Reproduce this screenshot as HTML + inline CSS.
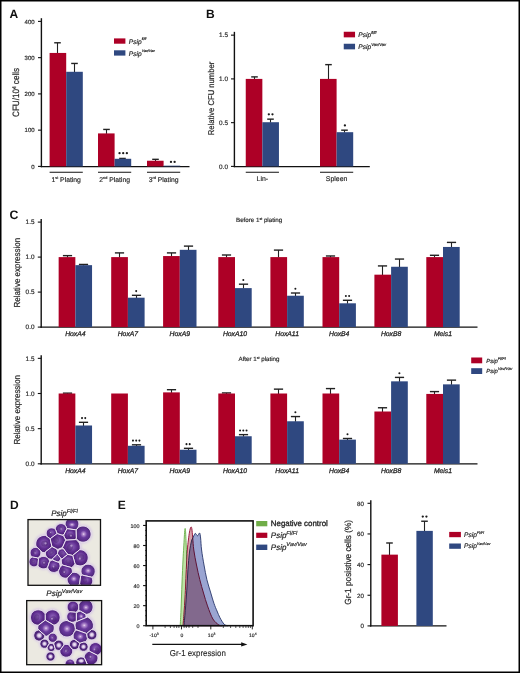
<!DOCTYPE html>
<html><head><meta charset="utf-8"><style>
html,body{margin:0;padding:0;background:#fff;}
#fig{position:relative;width:520px;height:673px;overflow:hidden;background:#fff;}
svg{position:absolute;left:0;top:0;filter:blur(0.3px);}
text{font-family:"Liberation Sans", sans-serif;text-rendering:geometricPrecision;}
</style></head><body><div id="fig">
<svg width="520" height="673" viewBox="0 0 520 673" font-family='"Liberation Sans", sans-serif'>
<text x="9.60" y="17.70" font-size="12" text-anchor="start" font-weight="bold" fill="#111" >A</text>
<line x1="41.40" y1="18.20" x2="41.40" y2="167.20" stroke="#111" stroke-width="1.4"/>
<line x1="38.00" y1="166.40" x2="41.40" y2="166.40" stroke="#111" stroke-width="1.1"/>
<text x="34.60" y="168.60" font-size="6.0" text-anchor="end" fill="#2a2a2a" stroke="#2a2a2a" stroke-width="0.18" >0</text>
<line x1="38.00" y1="130.15" x2="41.40" y2="130.15" stroke="#111" stroke-width="1.1"/>
<text x="34.60" y="132.35" font-size="6.0" text-anchor="end" fill="#2a2a2a" stroke="#2a2a2a" stroke-width="0.18" >100</text>
<line x1="38.00" y1="93.90" x2="41.40" y2="93.90" stroke="#111" stroke-width="1.1"/>
<text x="34.60" y="96.10" font-size="6.0" text-anchor="end" fill="#2a2a2a" stroke="#2a2a2a" stroke-width="0.18" >200</text>
<line x1="38.00" y1="57.65" x2="41.40" y2="57.65" stroke="#111" stroke-width="1.1"/>
<text x="34.60" y="59.85" font-size="6.0" text-anchor="end" fill="#2a2a2a" stroke="#2a2a2a" stroke-width="0.18" >300</text>
<line x1="38.00" y1="21.40" x2="41.40" y2="21.40" stroke="#111" stroke-width="1.1"/>
<text x="34.60" y="23.60" font-size="6.0" text-anchor="end" fill="#2a2a2a" stroke="#2a2a2a" stroke-width="0.18" >400</text>
<line x1="40.70" y1="166.55" x2="189.50" y2="166.55" stroke="#111" stroke-width="1.2"/>
<text transform="translate(18.80,92.45) rotate(-90)" x="0" y="0" font-size="9.2" text-anchor="middle" fill="#2a2a2a" stroke="#2a2a2a" stroke-width="0.22" textLength="49.0" lengthAdjust="spacingAndGlyphs">CFU/10<tspan font-size="5.4" dy="-3.3">4</tspan><tspan dy="3.3"> cells</tspan></text>
<line x1="57.50" y1="42.79" x2="57.50" y2="53.44" stroke="#222" stroke-width="1.1"/>
<line x1="54.20" y1="42.79" x2="60.80" y2="42.79" stroke="#222" stroke-width="1.4"/>
<rect x="49.60" y="52.94" width="16.60" height="113.46" fill="#ad0026" />
<line x1="74.50" y1="63.45" x2="74.50" y2="72.29" stroke="#222" stroke-width="1.1"/>
<line x1="71.20" y1="63.45" x2="77.80" y2="63.45" stroke="#222" stroke-width="1.4"/>
<rect x="66.20" y="71.79" width="16.60" height="94.61" fill="#2f4880" />
<line x1="49.60" y1="172.20" x2="82.80" y2="172.20" stroke="#111" stroke-width="1.1"/>
<line x1="106.50" y1="129.43" x2="106.50" y2="133.91" stroke="#222" stroke-width="1.1"/>
<line x1="103.20" y1="129.43" x2="109.80" y2="129.43" stroke="#222" stroke-width="1.4"/>
<rect x="98.00" y="133.41" width="16.60" height="32.99" fill="#ad0026" />
<line x1="122.50" y1="158.43" x2="122.50" y2="159.29" stroke="#222" stroke-width="1.1"/>
<line x1="119.20" y1="158.43" x2="125.80" y2="158.43" stroke="#222" stroke-width="1.4"/>
<rect x="114.60" y="158.79" width="16.60" height="7.61" fill="#2f4880" />
<line x1="98.00" y1="172.20" x2="131.20" y2="172.20" stroke="#111" stroke-width="1.1"/>
<line x1="155.50" y1="159.33" x2="155.50" y2="161.25" stroke="#222" stroke-width="1.1"/>
<line x1="152.20" y1="159.33" x2="158.80" y2="159.33" stroke="#222" stroke-width="1.4"/>
<rect x="147.00" y="160.75" width="16.60" height="5.66" fill="#ad0026" />
<rect x="163.60" y="165.68" width="16.60" height="0.72" fill="#2f4880" />
<line x1="147.00" y1="172.20" x2="180.20" y2="172.20" stroke="#111" stroke-width="1.1"/>
<text x="66.20" y="181.8" font-size="6.8" text-anchor="middle" fill="#2a2a2a" stroke="#2a2a2a" stroke-width="0.18">1<tspan font-size="3.8" dy="-2.6">st</tspan><tspan dy="2.6"> Plating</tspan></text>
<text x="114.60" y="181.8" font-size="6.8" text-anchor="middle" fill="#2a2a2a" stroke="#2a2a2a" stroke-width="0.18">2<tspan font-size="3.8" dy="-2.6">nd</tspan><tspan dy="2.6"> Plating</tspan></text>
<text x="163.60" y="181.8" font-size="6.8" text-anchor="middle" fill="#2a2a2a" stroke="#2a2a2a" stroke-width="0.18">3<tspan font-size="3.8" dy="-2.6">rd</tspan><tspan dy="2.6"> Plating</tspan></text>
<circle cx="119.55" cy="153.20" r="1.15" fill="#1a1a1a"/>
<circle cx="123.20" cy="153.20" r="1.15" fill="#1a1a1a"/>
<circle cx="126.86" cy="153.20" r="1.15" fill="#1a1a1a"/>
<circle cx="170.97" cy="161.90" r="1.15" fill="#1a1a1a"/>
<circle cx="174.63" cy="161.90" r="1.15" fill="#1a1a1a"/>
<rect x="114.00" y="38.40" width="11.40" height="5.30" fill="#ad0026" />
<rect x="114.00" y="50.30" width="11.40" height="5.30" fill="#2f4880" />
<text x="128.80" y="43.60" font-size="6.6" font-style="italic" fill="#2a2a2a" stroke="#2a2a2a" stroke-width="0.2">Psip<tspan font-size="3.6" dy="-3.30">fl/fl</tspan></text>
<text x="128.80" y="55.50" font-size="6.6" font-style="italic" fill="#2a2a2a" stroke="#2a2a2a" stroke-width="0.2">Psip<tspan font-size="3.6" dy="-3.30">Vav/Vav</tspan></text>
<text x="206.00" y="17.70" font-size="12" text-anchor="start" font-weight="bold" fill="#111" >B</text>
<line x1="234.40" y1="31.85" x2="234.40" y2="167.20" stroke="#111" stroke-width="1.4"/>
<line x1="231.00" y1="166.40" x2="234.40" y2="166.40" stroke="#111" stroke-width="1.1"/>
<text x="228.00" y="168.60" font-size="6.4" text-anchor="end" fill="#2a2a2a" stroke="#2a2a2a" stroke-width="0.18" >0.0</text>
<line x1="231.00" y1="122.65" x2="234.40" y2="122.65" stroke="#111" stroke-width="1.1"/>
<text x="228.00" y="124.85" font-size="6.4" text-anchor="end" fill="#2a2a2a" stroke="#2a2a2a" stroke-width="0.18" >0.5</text>
<line x1="231.00" y1="78.90" x2="234.40" y2="78.90" stroke="#111" stroke-width="1.1"/>
<text x="228.00" y="81.10" font-size="6.4" text-anchor="end" fill="#2a2a2a" stroke="#2a2a2a" stroke-width="0.18" >1.0</text>
<line x1="231.00" y1="35.15" x2="234.40" y2="35.15" stroke="#111" stroke-width="1.1"/>
<text x="228.00" y="37.35" font-size="6.4" text-anchor="end" fill="#2a2a2a" stroke="#2a2a2a" stroke-width="0.18" >1.5</text>
<line x1="233.80" y1="166.55" x2="369.80" y2="166.55" stroke="#111" stroke-width="1.2"/>
<text transform="translate(213.60,98.55) rotate(-90)" x="0" y="0" font-size="8.4" text-anchor="middle" fill="#2a2a2a" stroke="#2a2a2a" stroke-width="0.22" textLength="73.5" lengthAdjust="spacingAndGlyphs">Relative CFU number</text>
<line x1="254.50" y1="76.89" x2="254.50" y2="79.40" stroke="#222" stroke-width="1.1"/>
<line x1="251.20" y1="76.89" x2="257.80" y2="76.89" stroke="#222" stroke-width="1.4"/>
<rect x="245.75" y="78.90" width="16.60" height="87.50" fill="#ad0026" />
<line x1="270.50" y1="119.15" x2="270.50" y2="122.71" stroke="#222" stroke-width="1.1"/>
<line x1="267.20" y1="119.15" x2="273.80" y2="119.15" stroke="#222" stroke-width="1.4"/>
<rect x="262.35" y="122.21" width="16.60" height="44.19" fill="#2f4880" />
<line x1="245.75" y1="172.20" x2="278.95" y2="172.20" stroke="#111" stroke-width="1.1"/>
<circle cx="268.82" cy="114.35" r="1.15" fill="#1a1a1a"/>
<circle cx="272.48" cy="114.35" r="1.15" fill="#1a1a1a"/>
<text x="262.35" y="181.00" font-size="6.9" text-anchor="middle" fill="#2a2a2a" stroke="#2a2a2a" stroke-width="0.18" >Lin-</text>
<line x1="328.50" y1="64.64" x2="328.50" y2="79.40" stroke="#222" stroke-width="1.1"/>
<line x1="325.20" y1="64.64" x2="331.80" y2="64.64" stroke="#222" stroke-width="1.4"/>
<rect x="320.00" y="78.90" width="16.60" height="87.50" fill="#ad0026" />
<line x1="344.50" y1="130.18" x2="344.50" y2="132.69" stroke="#222" stroke-width="1.1"/>
<line x1="341.20" y1="130.18" x2="347.80" y2="130.18" stroke="#222" stroke-width="1.4"/>
<rect x="336.60" y="132.19" width="16.60" height="34.21" fill="#2f4880" />
<line x1="320.00" y1="172.20" x2="353.20" y2="172.20" stroke="#111" stroke-width="1.1"/>
<circle cx="344.90" cy="125.38" r="1.15" fill="#1a1a1a"/>
<text x="336.60" y="181.00" font-size="6.9" text-anchor="middle" fill="#2a2a2a" stroke="#2a2a2a" stroke-width="0.18" >Spleen</text>
<rect x="343.75" y="31.75" width="11.30" height="5.60" fill="#ad0026" />
<rect x="343.75" y="43.75" width="11.30" height="5.60" fill="#2f4880" />
<text x="358.30" y="37.30" font-size="6.6" font-style="italic" fill="#2a2a2a" stroke="#2a2a2a" stroke-width="0.2">Psip<tspan font-size="4.1" dy="-3.30">fl/fl</tspan></text>
<text x="358.30" y="49.30" font-size="6.6" font-style="italic" fill="#2a2a2a" stroke="#2a2a2a" stroke-width="0.2">Psip<tspan font-size="4.1" dy="-3.30">Vav/Vav</tspan></text>
<text x="9.40" y="218.50" font-size="12.3" text-anchor="start" font-weight="bold" fill="#111" >C</text>
<line x1="41.20" y1="218.90" x2="41.20" y2="327.80" stroke="#111" stroke-width="1.4"/>
<line x1="37.80" y1="327.10" x2="41.20" y2="327.10" stroke="#111" stroke-width="1.1"/>
<text x="34.50" y="329.30" font-size="6.4" text-anchor="end" fill="#2a2a2a" stroke="#2a2a2a" stroke-width="0.18" >0.0</text>
<line x1="37.80" y1="292.10" x2="41.20" y2="292.10" stroke="#111" stroke-width="1.1"/>
<text x="34.50" y="294.30" font-size="6.4" text-anchor="end" fill="#2a2a2a" stroke="#2a2a2a" stroke-width="0.18" >0.5</text>
<line x1="37.80" y1="257.10" x2="41.20" y2="257.10" stroke="#111" stroke-width="1.1"/>
<text x="34.50" y="259.30" font-size="6.4" text-anchor="end" fill="#2a2a2a" stroke="#2a2a2a" stroke-width="0.18" >1.0</text>
<line x1="37.80" y1="222.10" x2="41.20" y2="222.10" stroke="#111" stroke-width="1.1"/>
<text x="34.50" y="224.30" font-size="6.4" text-anchor="end" fill="#2a2a2a" stroke="#2a2a2a" stroke-width="0.18" >1.5</text>
<line x1="40.50" y1="327.20" x2="477.50" y2="327.20" stroke="#111" stroke-width="1.2"/>
<text transform="translate(19.80,272.70) rotate(-90)" x="0" y="0" font-size="8.7" text-anchor="middle" fill="#2a2a2a" stroke="#2a2a2a" stroke-width="0.22" textLength="69.6" lengthAdjust="spacingAndGlyphs">Relative expression</text>
<line x1="67.50" y1="255.63" x2="67.50" y2="257.60" stroke="#222" stroke-width="1.1"/>
<line x1="62.90" y1="255.63" x2="72.10" y2="255.63" stroke="#222" stroke-width="1.4"/>
<rect x="58.65" y="257.10" width="16.70" height="70.00" fill="#ad0026" />
<line x1="83.50" y1="264.45" x2="83.50" y2="265.65" stroke="#222" stroke-width="1.1"/>
<line x1="78.90" y1="264.45" x2="88.10" y2="264.45" stroke="#222" stroke-width="1.4"/>
<rect x="75.35" y="265.15" width="16.70" height="61.95" fill="#2f4880" />
<text x="75.35" y="335.70" font-size="6.8" text-anchor="middle" fill="#2a2a2a" font-style="italic" stroke="#2a2a2a" stroke-width="0.3">HoxA4</text>
<line x1="119.50" y1="252.90" x2="119.50" y2="257.60" stroke="#222" stroke-width="1.1"/>
<line x1="114.90" y1="252.90" x2="124.10" y2="252.90" stroke="#222" stroke-width="1.4"/>
<rect x="111.20" y="257.10" width="16.70" height="70.00" fill="#ad0026" />
<line x1="136.50" y1="295.32" x2="136.50" y2="298.20" stroke="#222" stroke-width="1.1"/>
<line x1="131.90" y1="295.32" x2="141.10" y2="295.32" stroke="#222" stroke-width="1.4"/>
<rect x="127.90" y="297.70" width="16.70" height="29.40" fill="#2f4880" />
<circle cx="136.20" cy="291.12" r="1.01" fill="#1a1a1a"/>
<text x="127.90" y="335.70" font-size="6.8" text-anchor="middle" fill="#2a2a2a" font-style="italic" stroke="#2a2a2a" stroke-width="0.3">HoxA7</text>
<line x1="171.50" y1="252.90" x2="171.50" y2="256.55" stroke="#222" stroke-width="1.1"/>
<line x1="166.90" y1="252.90" x2="176.10" y2="252.90" stroke="#222" stroke-width="1.4"/>
<rect x="163.10" y="256.05" width="16.70" height="71.05" fill="#ad0026" />
<line x1="188.50" y1="246.11" x2="188.50" y2="250.32" stroke="#222" stroke-width="1.1"/>
<line x1="183.90" y1="246.11" x2="193.10" y2="246.11" stroke="#222" stroke-width="1.4"/>
<rect x="179.80" y="249.82" width="16.70" height="77.28" fill="#2f4880" />
<text x="179.80" y="335.70" font-size="6.8" text-anchor="middle" fill="#2a2a2a" font-style="italic" stroke="#2a2a2a" stroke-width="0.3">HoxA9</text>
<line x1="226.50" y1="255.00" x2="226.50" y2="257.60" stroke="#222" stroke-width="1.1"/>
<line x1="221.90" y1="255.00" x2="231.10" y2="255.00" stroke="#222" stroke-width="1.4"/>
<rect x="218.30" y="257.10" width="16.70" height="70.00" fill="#ad0026" />
<line x1="243.50" y1="284.19" x2="243.50" y2="288.61" stroke="#222" stroke-width="1.1"/>
<line x1="238.90" y1="284.19" x2="248.10" y2="284.19" stroke="#222" stroke-width="1.4"/>
<rect x="235.00" y="288.11" width="16.70" height="38.99" fill="#2f4880" />
<circle cx="243.30" cy="279.99" r="1.01" fill="#1a1a1a"/>
<text x="235.00" y="335.70" font-size="6.8" text-anchor="middle" fill="#2a2a2a" font-style="italic" stroke="#2a2a2a" stroke-width="0.3">HoxA10</text>
<line x1="278.50" y1="250.10" x2="278.50" y2="257.60" stroke="#222" stroke-width="1.1"/>
<line x1="273.90" y1="250.10" x2="283.10" y2="250.10" stroke="#222" stroke-width="1.4"/>
<rect x="270.40" y="257.10" width="16.70" height="70.00" fill="#ad0026" />
<line x1="295.50" y1="293.01" x2="295.50" y2="296.24" stroke="#222" stroke-width="1.1"/>
<line x1="290.90" y1="293.01" x2="300.10" y2="293.01" stroke="#222" stroke-width="1.4"/>
<rect x="287.10" y="295.74" width="16.70" height="31.36" fill="#2f4880" />
<circle cx="295.40" cy="288.81" r="1.01" fill="#1a1a1a"/>
<text x="287.10" y="335.70" font-size="6.8" text-anchor="middle" fill="#2a2a2a" font-style="italic" stroke="#2a2a2a" stroke-width="0.3">HoxA11</text>
<line x1="330.50" y1="255.98" x2="330.50" y2="257.60" stroke="#222" stroke-width="1.1"/>
<line x1="325.90" y1="255.98" x2="335.10" y2="255.98" stroke="#222" stroke-width="1.4"/>
<rect x="322.50" y="257.10" width="16.70" height="70.00" fill="#ad0026" />
<line x1="347.50" y1="300.29" x2="347.50" y2="303.80" stroke="#222" stroke-width="1.1"/>
<line x1="342.90" y1="300.29" x2="352.10" y2="300.29" stroke="#222" stroke-width="1.4"/>
<rect x="339.20" y="303.30" width="16.70" height="23.80" fill="#2f4880" />
<circle cx="345.89" cy="296.09" r="1.01" fill="#1a1a1a"/>
<circle cx="349.11" cy="296.09" r="1.01" fill="#1a1a1a"/>
<text x="339.20" y="335.70" font-size="6.8" text-anchor="middle" fill="#2a2a2a" font-style="italic" stroke="#2a2a2a" stroke-width="0.3">HoxB4</text>
<line x1="382.50" y1="265.92" x2="382.50" y2="275.17" stroke="#222" stroke-width="1.1"/>
<line x1="377.90" y1="265.92" x2="387.10" y2="265.92" stroke="#222" stroke-width="1.4"/>
<rect x="374.40" y="274.67" width="16.70" height="52.43" fill="#ad0026" />
<line x1="399.50" y1="259.06" x2="399.50" y2="267.26" stroke="#222" stroke-width="1.1"/>
<line x1="394.90" y1="259.06" x2="404.10" y2="259.06" stroke="#222" stroke-width="1.4"/>
<rect x="391.10" y="266.76" width="16.70" height="60.34" fill="#2f4880" />
<text x="391.10" y="335.70" font-size="6.8" text-anchor="middle" fill="#2a2a2a" font-style="italic" stroke="#2a2a2a" stroke-width="0.3">HoxB8</text>
<line x1="434.50" y1="255.28" x2="434.50" y2="257.60" stroke="#222" stroke-width="1.1"/>
<line x1="429.90" y1="255.28" x2="439.10" y2="255.28" stroke="#222" stroke-width="1.4"/>
<rect x="426.30" y="257.10" width="16.70" height="70.00" fill="#ad0026" />
<line x1="451.50" y1="242.40" x2="451.50" y2="247.45" stroke="#222" stroke-width="1.1"/>
<line x1="446.90" y1="242.40" x2="456.10" y2="242.40" stroke="#222" stroke-width="1.4"/>
<rect x="443.00" y="246.95" width="16.70" height="80.15" fill="#2f4880" />
<text x="443.00" y="335.70" font-size="6.8" text-anchor="middle" fill="#2a2a2a" font-style="italic" stroke="#2a2a2a" stroke-width="0.3">Meis1</text>
<text x="236.0" y="222.0" font-size="6.2" fill="#2a2a2a" stroke="#2a2a2a" stroke-width="0.18">Before 1<tspan font-size="3.6" dy="-2.3">st</tspan><tspan dy="2.3"> plating</tspan></text>
<line x1="41.20" y1="355.15" x2="41.20" y2="464.50" stroke="#111" stroke-width="1.4"/>
<line x1="37.80" y1="463.80" x2="41.20" y2="463.80" stroke="#111" stroke-width="1.1"/>
<text x="34.50" y="466.00" font-size="6.4" text-anchor="end" fill="#2a2a2a" stroke="#2a2a2a" stroke-width="0.18" >0.0</text>
<line x1="37.80" y1="428.65" x2="41.20" y2="428.65" stroke="#111" stroke-width="1.1"/>
<text x="34.50" y="430.85" font-size="6.4" text-anchor="end" fill="#2a2a2a" stroke="#2a2a2a" stroke-width="0.18" >0.5</text>
<line x1="37.80" y1="393.50" x2="41.20" y2="393.50" stroke="#111" stroke-width="1.1"/>
<text x="34.50" y="395.70" font-size="6.4" text-anchor="end" fill="#2a2a2a" stroke="#2a2a2a" stroke-width="0.18" >1.0</text>
<line x1="37.80" y1="358.35" x2="41.20" y2="358.35" stroke="#111" stroke-width="1.1"/>
<text x="34.50" y="360.55" font-size="6.4" text-anchor="end" fill="#2a2a2a" stroke="#2a2a2a" stroke-width="0.18" >1.5</text>
<line x1="40.50" y1="463.90" x2="477.50" y2="463.90" stroke="#111" stroke-width="1.2"/>
<text transform="translate(19.80,409.80) rotate(-90)" x="0" y="0" font-size="8.7" text-anchor="middle" fill="#2a2a2a" stroke="#2a2a2a" stroke-width="0.22" textLength="69.6" lengthAdjust="spacingAndGlyphs">Relative expression</text>
<line x1="67.50" y1="393.15" x2="67.50" y2="394.00" stroke="#222" stroke-width="1.1"/>
<line x1="62.90" y1="393.15" x2="72.10" y2="393.15" stroke="#222" stroke-width="1.4"/>
<rect x="58.65" y="393.50" width="16.70" height="70.30" fill="#ad0026" />
<line x1="83.50" y1="422.32" x2="83.50" y2="425.99" stroke="#222" stroke-width="1.1"/>
<line x1="78.90" y1="422.32" x2="88.10" y2="422.32" stroke="#222" stroke-width="1.4"/>
<rect x="75.35" y="425.49" width="16.70" height="38.31" fill="#2f4880" />
<circle cx="82.04" cy="418.12" r="1.01" fill="#1a1a1a"/>
<circle cx="85.26" cy="418.12" r="1.01" fill="#1a1a1a"/>
<text x="75.35" y="472.50" font-size="6.8" text-anchor="middle" fill="#2a2a2a" font-style="italic" stroke="#2a2a2a" stroke-width="0.3">HoxA4</text>
<rect x="111.20" y="393.50" width="16.70" height="70.30" fill="#ad0026" />
<line x1="136.50" y1="444.82" x2="136.50" y2="446.30" stroke="#222" stroke-width="1.1"/>
<line x1="131.90" y1="444.82" x2="141.10" y2="444.82" stroke="#222" stroke-width="1.4"/>
<rect x="127.90" y="445.80" width="16.70" height="18.00" fill="#2f4880" />
<circle cx="132.97" cy="440.62" r="1.01" fill="#1a1a1a"/>
<circle cx="136.20" cy="440.62" r="1.01" fill="#1a1a1a"/>
<circle cx="139.42" cy="440.62" r="1.01" fill="#1a1a1a"/>
<text x="127.90" y="472.50" font-size="6.8" text-anchor="middle" fill="#2a2a2a" font-style="italic" stroke="#2a2a2a" stroke-width="0.3">HoxA7</text>
<line x1="171.50" y1="389.70" x2="171.50" y2="392.88" stroke="#222" stroke-width="1.1"/>
<line x1="166.90" y1="389.70" x2="176.10" y2="389.70" stroke="#222" stroke-width="1.4"/>
<rect x="163.10" y="392.38" width="16.70" height="71.42" fill="#ad0026" />
<line x1="188.50" y1="448.33" x2="188.50" y2="450.24" stroke="#222" stroke-width="1.1"/>
<line x1="183.90" y1="448.33" x2="193.10" y2="448.33" stroke="#222" stroke-width="1.4"/>
<rect x="179.80" y="449.74" width="16.70" height="14.06" fill="#2f4880" />
<circle cx="186.49" cy="444.13" r="1.01" fill="#1a1a1a"/>
<circle cx="189.71" cy="444.13" r="1.01" fill="#1a1a1a"/>
<text x="179.80" y="472.50" font-size="6.8" text-anchor="middle" fill="#2a2a2a" font-style="italic" stroke="#2a2a2a" stroke-width="0.3">HoxA9</text>
<line x1="226.50" y1="392.94" x2="226.50" y2="394.00" stroke="#222" stroke-width="1.1"/>
<line x1="221.90" y1="392.94" x2="231.10" y2="392.94" stroke="#222" stroke-width="1.4"/>
<rect x="218.30" y="393.50" width="16.70" height="70.30" fill="#ad0026" />
<line x1="243.50" y1="434.63" x2="243.50" y2="436.74" stroke="#222" stroke-width="1.1"/>
<line x1="238.90" y1="434.63" x2="248.10" y2="434.63" stroke="#222" stroke-width="1.4"/>
<rect x="235.00" y="436.24" width="16.70" height="27.56" fill="#2f4880" />
<circle cx="240.08" cy="430.43" r="1.01" fill="#1a1a1a"/>
<circle cx="243.30" cy="430.43" r="1.01" fill="#1a1a1a"/>
<circle cx="246.53" cy="430.43" r="1.01" fill="#1a1a1a"/>
<text x="235.00" y="472.50" font-size="6.8" text-anchor="middle" fill="#2a2a2a" font-style="italic" stroke="#2a2a2a" stroke-width="0.3">HoxA10</text>
<line x1="278.50" y1="389.14" x2="278.50" y2="394.00" stroke="#222" stroke-width="1.1"/>
<line x1="273.90" y1="389.14" x2="283.10" y2="389.14" stroke="#222" stroke-width="1.4"/>
<rect x="270.40" y="393.50" width="16.70" height="70.30" fill="#ad0026" />
<line x1="295.50" y1="416.56" x2="295.50" y2="421.77" stroke="#222" stroke-width="1.1"/>
<line x1="290.90" y1="416.56" x2="300.10" y2="416.56" stroke="#222" stroke-width="1.4"/>
<rect x="287.10" y="421.27" width="16.70" height="42.53" fill="#2f4880" />
<circle cx="295.40" cy="412.36" r="1.01" fill="#1a1a1a"/>
<text x="287.10" y="472.50" font-size="6.8" text-anchor="middle" fill="#2a2a2a" font-style="italic" stroke="#2a2a2a" stroke-width="0.3">HoxA11</text>
<line x1="330.50" y1="388.58" x2="330.50" y2="394.00" stroke="#222" stroke-width="1.1"/>
<line x1="325.90" y1="388.58" x2="335.10" y2="388.58" stroke="#222" stroke-width="1.4"/>
<rect x="322.50" y="393.50" width="16.70" height="70.30" fill="#ad0026" />
<line x1="347.50" y1="438.49" x2="347.50" y2="440.12" stroke="#222" stroke-width="1.1"/>
<line x1="342.90" y1="438.49" x2="352.10" y2="438.49" stroke="#222" stroke-width="1.4"/>
<rect x="339.20" y="439.62" width="16.70" height="24.18" fill="#2f4880" />
<circle cx="347.50" cy="434.29" r="1.01" fill="#1a1a1a"/>
<text x="339.20" y="472.50" font-size="6.8" text-anchor="middle" fill="#2a2a2a" font-style="italic" stroke="#2a2a2a" stroke-width="0.3">HoxB4</text>
<line x1="382.50" y1="407.77" x2="382.50" y2="412.00" stroke="#222" stroke-width="1.1"/>
<line x1="377.90" y1="407.77" x2="387.10" y2="407.77" stroke="#222" stroke-width="1.4"/>
<rect x="374.40" y="411.50" width="16.70" height="52.30" fill="#ad0026" />
<line x1="399.50" y1="377.40" x2="399.50" y2="381.84" stroke="#222" stroke-width="1.1"/>
<line x1="394.90" y1="377.40" x2="404.10" y2="377.40" stroke="#222" stroke-width="1.4"/>
<rect x="391.10" y="381.34" width="16.70" height="82.46" fill="#2f4880" />
<circle cx="399.40" cy="373.20" r="1.01" fill="#1a1a1a"/>
<text x="391.10" y="472.50" font-size="6.8" text-anchor="middle" fill="#2a2a2a" font-style="italic" stroke="#2a2a2a" stroke-width="0.3">HoxB8</text>
<line x1="434.50" y1="391.60" x2="434.50" y2="394.42" stroke="#222" stroke-width="1.1"/>
<line x1="429.90" y1="391.60" x2="439.10" y2="391.60" stroke="#222" stroke-width="1.4"/>
<rect x="426.30" y="393.92" width="16.70" height="69.88" fill="#ad0026" />
<line x1="451.50" y1="380.14" x2="451.50" y2="384.86" stroke="#222" stroke-width="1.1"/>
<line x1="446.90" y1="380.14" x2="456.10" y2="380.14" stroke="#222" stroke-width="1.4"/>
<rect x="443.00" y="384.36" width="16.70" height="79.44" fill="#2f4880" />
<text x="443.00" y="472.50" font-size="6.8" text-anchor="middle" fill="#2a2a2a" font-style="italic" stroke="#2a2a2a" stroke-width="0.3">Meis1</text>
<text x="238.5" y="361.25" font-size="6.2" fill="#2a2a2a" stroke="#2a2a2a" stroke-width="0.18">After 1<tspan font-size="3.6" dy="-2.3">st</tspan><tspan dy="2.3"> plating</tspan></text>
<rect x="471.20" y="357.50" width="11.00" height="5.80" fill="#ad0026" />
<rect x="471.20" y="368.20" width="11.00" height="5.80" fill="#2f4880" />
<text x="486.30" y="363.00" font-size="5.9" font-style="italic" fill="#2a2a2a" stroke="#2a2a2a" stroke-width="0.2">Psip<tspan font-size="4.0" dy="-2.95">Fl/Fl</tspan></text>
<text x="486.30" y="373.40" font-size="5.9" font-style="italic" fill="#2a2a2a" stroke="#2a2a2a" stroke-width="0.2">Psip<tspan font-size="4.0" dy="-2.95">Vav/Vav</tspan></text>
<text x="10.00" y="508.80" font-size="12" text-anchor="start" font-weight="bold" fill="#111" >D</text>
<text x="117.80" y="509.10" font-size="12" text-anchor="start" font-weight="bold" fill="#111" >E</text>
<text x="51.20" y="516.10" font-size="8" font-style="italic" fill="#2a2a2a" stroke="#2a2a2a" stroke-width="0.2">Psip<tspan font-size="5.6" dy="-3.20">Fl/Fl</tspan></text>
<text x="46.30" y="596.10" font-size="8" font-style="italic" fill="#2a2a2a" stroke="#2a2a2a" stroke-width="0.2">Psip<tspan font-size="5.6" dy="-3.20">Vav/Vav</tspan></text>
<defs><radialGradient id="cg" cx="0.5" cy="0.45" r="0.6">
<stop offset="0" stop-color="#9468c0"/><stop offset="0.55" stop-color="#5e2c8e"/><stop offset="1" stop-color="#421a6a"/></radialGradient>
<radialGradient id="cg3" cx="0.5" cy="0.5" r="0.6">
<stop offset="0" stop-color="#eadcf2"/><stop offset="0.12" stop-color="#b690d0"/><stop offset="0.38" stop-color="#6a3a9e"/><stop offset="1" stop-color="#44206c"/></radialGradient>
<radialGradient id="cg2" cx="0.5" cy="0.5" r="0.6">
<stop offset="0" stop-color="#f6f0f8"/><stop offset="0.25" stop-color="#d6c2e4"/><stop offset="0.5" stop-color="#52287e"/><stop offset="1" stop-color="#401c66"/></radialGradient></defs>
<defs><filter id="haze" x="-10%" y="-10%" width="120%" height="120%"><feGaussianBlur stdDeviation="1.2"/></filter><clipPath id="clip519"><rect x="28.0" y="519.6" width="72.5" height="65.7"/></clipPath><clipPath id="clip600"><rect x="26.7" y="600.6" width="74.9" height="64.1"/></clipPath></defs>
<rect x="28.00" y="519.60" width="72.50" height="65.70" fill="#ebe9e1" />
<g clip-path="url(#clip519)" filter="url(#haze)">
<circle cx="72.0" cy="524.1" r="8.12" fill="#d9cbe4"/>
<circle cx="61.1" cy="529.4" r="6.82" fill="#d9cbe4"/>
<circle cx="51.6" cy="533.3" r="6.38" fill="#d9cbe4"/>
<circle cx="70.6" cy="534.4" r="8.12" fill="#d9cbe4"/>
<circle cx="83.0" cy="534.1" r="9.57" fill="#d9cbe4"/>
<circle cx="44.3" cy="544.0" r="10.15" fill="#d9cbe4"/>
<circle cx="57.4" cy="541.1" r="9.57" fill="#d9cbe4"/>
<circle cx="71.3" cy="547.2" r="10.58" fill="#d9cbe4"/>
<circle cx="35.5" cy="552.8" r="6.38" fill="#d9cbe4"/>
<circle cx="51.6" cy="553.1" r="7.39" fill="#d9cbe4"/>
<circle cx="62.5" cy="553.8" r="5.94" fill="#d9cbe4"/>
<circle cx="80.1" cy="557.8" r="9.57" fill="#d9cbe4"/>
<circle cx="34.0" cy="561.8" r="5.94" fill="#d9cbe4"/>
<circle cx="43.5" cy="562.6" r="7.39" fill="#d9cbe4"/>
<circle cx="56.7" cy="558.2" r="4.64" fill="#d9cbe4"/>
<circle cx="68.4" cy="561.1" r="8.41" fill="#d9cbe4"/>
<circle cx="53.8" cy="566.2" r="7.39" fill="#d9cbe4"/>
<circle cx="65.5" cy="571.3" r="8.12" fill="#d9cbe4"/>
<circle cx="88.1" cy="571.3" r="8.41" fill="#d9cbe4"/>
<circle cx="74.2" cy="579.4" r="8.41" fill="#d9cbe4"/>
<circle cx="85.9" cy="580.8" r="8.12" fill="#d9cbe4"/>
</g>
<path d="M65.7,521.5 L65.4,522.3 L65.2,523.2 L65.1,524.1 L65.2,524.9 L67.0,528.7 L75.7,529.8 L76.2,529.5 L76.8,528.9 L77.4,528.3 L77.9,527.5 L78.3,526.7 L78.6,525.9 L78.8,525.0 L78.9,524.1 L78.8,523.2 L78.6,522.3 L78.3,521.5 L77.9,520.7 L77.4,519.9 L77.2,519.6 L66.8,519.6 L66.6,519.9 L66.1,520.7 L65.7,521.5Z" fill="url(#cg3)" stroke="#efe6f4" stroke-width="1.0" stroke-linejoin="round"/>
<path d="M55.8,527.2 L55.5,527.9 L55.4,528.6 L55.4,529.3 L57.1,533.5 L57.3,533.7 L61.8,535.1 L61.9,535.1 L62.6,535.0 L63.3,534.7 L64.0,534.4 L64.1,534.3 L66.8,529.1 L66.8,528.6 L66.7,527.9 L66.6,527.8 L65.8,526.1 L65.7,525.9 L65.2,525.3 L64.6,524.8 L64.0,524.4 L63.3,524.1 L62.6,523.8 L61.9,523.7 L61.1,523.6 L60.3,523.7 L59.6,523.8 L58.9,524.1 L58.2,524.4 L57.6,524.8 L57.0,525.3 L56.5,525.9 L56.1,526.5 L55.8,527.2Z" fill="url(#cg)" stroke="#efe6f4" stroke-width="1.0" stroke-linejoin="round"/>
<ellipse cx="60.60" cy="528.42" rx="2.35" ry="1.97" fill="#2c0c4c" opacity="0.28" transform="rotate(117 60.60 528.42)"/>
<circle cx="61.18" cy="529.08" r="0.75" fill="#e4d0f0" opacity="0.55"/>
<path d="M46.3,534.0 L46.4,534.7 L46.6,535.4 L46.9,536.0 L47.3,536.6 L47.8,537.1 L49.4,538.2 L49.5,538.3 L50.2,538.5 L50.5,538.6 L57.0,533.8 L57.0,533.3 L57.0,533.3 L55.5,529.6 L55.4,529.5 L54.9,529.0 L54.3,528.6 L53.7,528.3 L53.0,528.1 L52.3,528.0 L51.6,527.9 L50.9,528.0 L50.2,528.1 L49.5,528.3 L48.9,528.6 L48.3,529.0 L47.8,529.5 L47.3,530.0 L46.9,530.6 L46.6,531.2 L46.4,531.9 L46.3,532.6 L46.2,533.3 L46.3,534.0Z" fill="url(#cg)" stroke="#efe6f4" stroke-width="1.0" stroke-linejoin="round"/>
<ellipse cx="50.43" cy="533.32" rx="2.20" ry="1.85" fill="#2c0c4c" opacity="0.28" transform="rotate(7 50.43 533.32)"/>
<circle cx="50.65" cy="532.40" r="0.70" fill="#e4d0f0" opacity="0.55"/>
<path d="M76.0,530.2 L75.7,529.8 L67.0,528.7 L63.8,534.9 L63.8,535.3 L64.0,536.2 L64.3,537.0 L64.7,537.8 L65.2,538.6 L65.8,539.2 L66.4,539.8 L66.9,540.1 L74.9,539.7 L75.4,539.2 L76.0,538.6 L76.4,538.1 L76.2,530.5 L76.0,530.2Z" fill="url(#cg)" stroke="#efe6f4" stroke-width="1.0" stroke-linejoin="round"/>
<ellipse cx="70.35" cy="535.50" rx="2.80" ry="2.35" fill="#2c0c4c" opacity="0.28" transform="rotate(22 70.35 535.50)"/>
<circle cx="70.96" cy="535.65" r="0.90" fill="#e4d0f0" opacity="0.55"/>
<path d="M77.3,539.8 L78.1,540.5 L79.0,541.1 L79.9,541.6 L80.9,541.9 L81.9,542.1 L83.0,542.2 L84.1,542.1 L85.1,541.9 L86.1,541.6 L87.0,541.1 L87.9,540.5 L88.7,539.8 L89.4,539.0 L90.0,538.1 L90.5,537.2 L90.8,536.2 L91.0,535.2 L91.1,534.1 L91.0,533.0 L90.8,532.0 L90.5,531.0 L90.0,530.1 L89.4,529.2 L88.7,528.4 L87.9,527.7 L87.0,527.1 L86.1,526.6 L85.1,526.3 L84.1,526.1 L83.0,526.0 L81.9,526.1 L80.9,526.3 L79.9,526.6 L79.0,527.1 L78.4,527.5 L76.2,529.9 L76.4,538.7 L76.6,539.0 L77.3,539.8Z" fill="url(#cg3)" stroke="#efe6f4" stroke-width="1.0" stroke-linejoin="round"/>
<path d="M36.0,546.2 L36.1,546.3 L42.0,552.2 L42.1,552.3 L43.2,552.5 L44.3,552.6 L44.6,552.5 L52.0,546.6 L50.2,538.8 L45.5,535.5 L45.4,535.5 L44.3,535.4 L43.2,535.5 L42.1,535.7 L41.0,536.1 L40.0,536.6 L39.1,537.2 L38.2,537.9 L37.5,538.8 L36.9,539.7 L36.4,540.7 L36.0,541.8 L35.8,542.9 L35.7,544.0 L35.8,545.1 L36.0,546.2Z" fill="url(#cg)" stroke="#efe6f4" stroke-width="1.0" stroke-linejoin="round"/>
<ellipse cx="44.62" cy="543.57" rx="3.50" ry="2.94" fill="#2c0c4c" opacity="0.28" transform="rotate(176 44.62 543.57)"/>
<circle cx="45.55" cy="543.26" r="1.12" fill="#e4d0f0" opacity="0.55"/>
<path d="M50.2,538.8 L52.0,546.6 L57.2,549.2 L57.4,549.2 L58.5,549.1 L58.6,549.1 L62.0,547.7 L62.3,547.5 L62.6,547.2 L65.5,540.8 L65.4,540.0 L65.3,539.3 L63.5,535.8 L63.3,535.6 L57.1,533.6 L50.2,538.8Z" fill="url(#cg)" stroke="#efe6f4" stroke-width="1.0" stroke-linejoin="round"/>
<ellipse cx="55.99" cy="539.59" rx="3.30" ry="2.77" fill="#2c0c4c" opacity="0.28" transform="rotate(56 55.99 539.59)"/>
<path d="M79.0,542.7 L78.4,541.8 L77.6,540.9 L76.7,540.1 L76.0,539.6 L65.8,540.2 L65.7,540.3 L62.5,547.5 L67.7,554.4 L72.7,555.5 L79.9,549.5 L80.2,548.4 L80.2,547.2 L80.2,546.0 L79.9,544.9 L79.6,543.8 L79.0,542.7Z" fill="url(#cg)" stroke="#efe6f4" stroke-width="1.0" stroke-linejoin="round"/>
<ellipse cx="69.90" cy="547.56" rx="3.65" ry="3.07" fill="#2c0c4c" opacity="0.28" transform="rotate(115 69.90 547.56)"/>
<circle cx="71.47" cy="545.60" r="1.17" fill="#e4d0f0" opacity="0.55"/>
<path d="M30.1,552.8 L30.2,553.5 L30.3,554.2 L30.5,554.9 L30.8,555.5 L31.2,556.1 L31.7,556.6 L32.2,557.0 L37.3,557.9 L37.6,557.8 L38.2,557.5 L38.8,557.1 L39.3,556.6 L39.8,556.1 L40.2,555.5 L40.5,554.9 L40.7,554.2 L40.8,553.5 L40.9,552.8 L40.8,552.1 L40.7,551.4 L40.5,550.7 L40.5,550.7 L37.6,547.8 L37.6,547.8 L36.9,547.6 L36.2,547.5 L35.5,547.4 L34.8,547.5 L34.1,547.6 L33.4,547.8 L32.8,548.1 L32.2,548.5 L31.7,549.0 L31.2,549.5 L30.8,550.1 L30.5,550.7 L30.3,551.4 L30.2,552.1 L30.1,552.8Z" fill="url(#cg)" stroke="#efe6f4" stroke-width="1.0" stroke-linejoin="round"/>
<ellipse cx="34.34" cy="552.02" rx="2.20" ry="1.85" fill="#2c0c4c" opacity="0.28" transform="rotate(122 34.34 552.02)"/>
<circle cx="35.09" cy="552.99" r="0.70" fill="#e4d0f0" opacity="0.55"/>
<path d="M48.5,558.5 L49.2,558.9 L50.0,559.1 L50.8,559.3 L51.6,559.3 L52.1,559.3 L57.5,554.0 L57.6,551.4 L57.4,550.7 L57.0,550.0 L56.6,549.3 L56.0,548.7 L55.8,548.5 L52.6,547.0 L52.4,546.9 L51.7,546.9 L45.5,551.8 L45.4,552.3 L45.4,553.1 L45.4,553.9 L45.6,554.7 L45.8,555.5 L46.2,556.2 L46.6,556.9 L47.2,557.5 L47.8,558.1 L48.5,558.5Z" fill="url(#cg)" stroke="#efe6f4" stroke-width="1.0" stroke-linejoin="round"/>
<ellipse cx="51.46" cy="552.49" rx="2.55" ry="2.14" fill="#2c0c4c" opacity="0.28" transform="rotate(143 51.46 552.49)"/>
<path d="M57.5,553.8 L57.5,554.0 L61.0,558.6 L61.2,558.6 L61.8,558.8 L62.3,558.8 L67.4,554.6 L67.5,554.5 L67.5,554.2 L63.5,548.9 L63.2,548.8 L62.5,548.8 L61.8,548.8 L61.2,549.0 L60.6,549.2 L60.0,549.5 L59.4,549.8 L59.0,550.3 L58.5,550.7 L58.2,551.3 L57.9,551.9 L57.7,552.5 L57.5,553.1 L57.5,553.8Z" fill="url(#cg)" stroke="#efe6f4" stroke-width="1.0" stroke-linejoin="round"/>
<ellipse cx="61.87" cy="553.98" rx="2.05" ry="1.72" fill="#2c0c4c" opacity="0.28" transform="rotate(95 61.87 553.98)"/>
<path d="M81.2,565.8 L82.2,565.6 L83.2,565.3 L84.1,564.8 L85.0,564.2 L85.8,563.5 L86.5,562.7 L87.1,561.8 L87.6,560.9 L87.9,559.9 L88.1,558.9 L88.2,557.8 L88.1,556.7 L87.9,555.7 L87.6,554.7 L87.1,553.8 L86.5,552.9 L85.8,552.1 L85.0,551.4 L84.1,550.8 L83.2,550.3 L82.2,550.0 L81.2,549.8 L80.1,549.7 L79.6,549.8 L72.7,555.5 L75.1,564.2 L75.2,564.2 L76.1,564.8 L77.0,565.3 L78.0,565.6 L79.0,565.8 L80.1,565.9 L81.2,565.8Z" fill="url(#cg)" stroke="#efe6f4" stroke-width="1.0" stroke-linejoin="round"/>
<ellipse cx="81.01" cy="556.96" rx="3.30" ry="2.77" fill="#2c0c4c" opacity="0.28" transform="rotate(176 81.01 556.96)"/>
<circle cx="79.83" cy="558.65" r="1.06" fill="#e4d0f0" opacity="0.55"/>
<path d="M29.4,563.7 L29.7,564.3 L30.0,564.9 L30.5,565.3 L30.9,565.8 L31.5,566.1 L32.1,566.4 L32.7,566.6 L33.3,566.8 L34.0,566.8 L34.7,566.8 L35.3,566.6 L35.9,566.4 L36.5,566.1 L37.1,565.8 L37.5,565.3 L38.0,564.9 L38.0,564.8 L38.5,559.5 L38.3,559.3 L38.0,558.7 L37.5,558.3 L37.1,557.8 L32.4,557.1 L32.1,557.2 L31.5,557.5 L30.9,557.8 L30.5,558.3 L30.0,558.7 L29.7,559.3 L29.4,559.9 L29.2,560.5 L29.0,561.1 L29.0,561.8 L29.0,562.5 L29.2,563.1 L29.4,563.7Z" fill="url(#cg)" stroke="#efe6f4" stroke-width="1.0" stroke-linejoin="round"/>
<ellipse cx="33.14" cy="561.77" rx="2.05" ry="1.72" fill="#2c0c4c" opacity="0.28" transform="rotate(7 33.14 561.77)"/>
<path d="M38.0,565.5 L38.1,565.7 L38.5,566.4 L39.1,567.0 L39.7,567.6 L40.4,568.0 L41.1,568.4 L41.9,568.6 L42.7,568.8 L43.5,568.8 L44.3,568.8 L45.1,568.6 L45.9,568.4 L46.6,568.0 L47.3,567.6 L47.7,567.2 L49.6,561.6 L49.5,561.0 L49.3,560.2 L48.9,559.5 L48.5,558.8 L47.9,558.2 L47.3,557.6 L46.6,557.2 L45.9,556.8 L45.1,556.6 L44.3,556.4 L43.5,556.4 L42.7,556.4 L41.9,556.6 L41.1,556.8 L40.4,557.2 L39.7,557.6 L39.1,558.2 L38.5,558.8 L38.5,558.8 L38.0,565.5Z" fill="url(#cg)" stroke="#efe6f4" stroke-width="1.0" stroke-linejoin="round"/>
<ellipse cx="44.31" cy="562.82" rx="2.55" ry="2.14" fill="#2c0c4c" opacity="0.28" transform="rotate(158 44.31 562.82)"/>
<circle cx="44.00" cy="562.84" r="0.82" fill="#e4d0f0" opacity="0.55"/>
<path d="M58.2,561.8 L58.7,561.6 L59.1,561.3 L59.5,561.0 L59.8,560.6 L60.1,560.2 L60.3,559.7 L60.5,559.2 L60.6,558.7 L60.6,558.2 L60.6,558.1 L57.8,554.5 L57.7,554.4 L57.2,554.3 L57.1,554.3 L52.8,558.6 L52.8,558.7 L52.9,559.2 L53.1,559.7 L53.3,560.2 L53.6,560.6 L57.6,562.0 L57.7,562.0 L58.2,561.8Z" fill="url(#cg)" stroke="#efe6f4" stroke-width="1.0" stroke-linejoin="round"/>
<ellipse cx="56.85" cy="558.12" rx="1.60" ry="1.34" fill="#2c0c4c" opacity="0.28" transform="rotate(151 56.85 558.12)"/>
<path d="M73.4,566.1 L74.0,565.4 L74.5,564.6 L75.0,563.8 L75.0,563.7 L72.7,555.5 L67.7,554.4 L61.6,559.4 L61.4,560.3 L61.3,561.1 L61.4,562.0 L61.5,562.9 L61.8,563.8 L62.3,564.6 L62.5,565.1 L71.3,567.6 L71.9,567.2 L72.7,566.7 L73.4,566.1Z" fill="url(#cg)" stroke="#efe6f4" stroke-width="1.0" stroke-linejoin="round"/>
<ellipse cx="68.31" cy="561.67" rx="2.90" ry="2.44" fill="#2c0c4c" opacity="0.28" transform="rotate(11 68.31 561.67)"/>
<path d="M48.0,568.6 L48.4,569.3 L48.8,570.0 L49.4,570.6 L50.0,571.2 L50.7,571.6 L51.4,572.0 L52.2,572.2 L53.0,572.4 L53.8,572.4 L54.6,572.4 L55.4,572.2 L56.2,572.0 L56.9,571.6 L57.6,571.2 L58.2,570.6 L58.8,570.0 L59.1,569.5 L59.8,567.8 L60.0,567.0 L60.0,566.2 L60.0,565.4 L59.8,564.6 L59.6,563.8 L59.2,563.1 L58.8,562.5 L52.4,560.1 L52.2,560.2 L51.4,560.4 L50.7,560.8 L50.0,561.2 L49.6,561.6 L47.7,567.2 L47.8,567.8 L48.0,568.6Z" fill="url(#cg)" stroke="#efe6f4" stroke-width="1.0" stroke-linejoin="round"/>
<ellipse cx="54.25" cy="567.71" rx="2.55" ry="2.14" fill="#2c0c4c" opacity="0.28" transform="rotate(148 54.25 567.71)"/>
<circle cx="53.51" cy="566.63" r="0.82" fill="#e4d0f0" opacity="0.55"/>
<path d="M58.7,570.4 L58.6,571.3 L58.7,572.2 L58.9,573.1 L59.2,573.9 L59.6,574.7 L60.1,575.5 L60.7,576.1 L61.3,576.7 L62.1,577.2 L62.9,577.6 L63.7,577.9 L64.6,578.1 L65.5,578.2 L66.4,578.1 L67.3,577.9 L67.3,577.9 L72.2,572.7 L72.3,572.2 L72.4,571.3 L72.3,570.4 L72.1,569.5 L71.8,568.7 L71.4,567.9 L71.2,567.5 L62.6,565.1 L62.1,565.4 L61.3,565.9 L60.7,566.5 L60.2,567.0 L58.7,570.3 L58.7,570.4Z" fill="url(#cg)" stroke="#efe6f4" stroke-width="1.0" stroke-linejoin="round"/>
<ellipse cx="63.90" cy="571.17" rx="2.80" ry="2.35" fill="#2c0c4c" opacity="0.28" transform="rotate(30 63.90 571.17)"/>
<circle cx="64.27" cy="572.05" r="0.90" fill="#e4d0f0" opacity="0.55"/>
<path d="M81.5,568.6 L81.2,569.5 L81.1,570.4 L81.0,571.3 L81.1,572.2 L81.2,573.1 L81.5,574.0 L82.0,574.8 L82.1,575.0 L91.9,577.3 L92.4,576.9 L93.1,576.3 L93.7,575.6 L94.2,574.8 L94.7,574.0 L95.0,573.1 L95.1,572.2 L95.2,571.3 L95.1,570.4 L95.0,569.5 L94.7,568.6 L94.2,567.8 L93.7,567.0 L93.1,566.3 L92.4,565.7 L91.6,565.2 L90.8,564.7 L89.9,564.4 L89.0,564.3 L88.1,564.2 L87.2,564.3 L86.3,564.4 L85.4,564.7 L84.6,565.2 L83.8,565.7 L83.1,566.3 L82.5,567.0 L82.0,567.8 L81.5,568.6Z" fill="url(#cg3)" stroke="#efe6f4" stroke-width="1.0" stroke-linejoin="round"/>
<path d="M67.3,581.2 L67.6,582.1 L68.1,582.9 L68.6,583.7 L69.2,584.4 L69.9,585.0 L70.3,585.3 L78.1,585.3 L78.5,585.0 L79.2,584.4 L79.7,583.9 L80.6,576.4 L80.3,575.9 L79.8,575.1 L79.2,574.4 L78.5,573.8 L77.7,573.3 L76.9,572.8 L76.0,572.5 L75.1,572.4 L74.2,572.3 L73.3,572.4 L72.4,572.5 L72.3,572.6 L67.3,578.0 L67.2,578.5 L67.1,579.4 L67.2,580.3 L67.3,581.2Z" fill="url(#cg3)" stroke="#efe6f4" stroke-width="1.0" stroke-linejoin="round"/>
<path d="M80.5,585.0 L80.7,585.3 L91.1,585.3 L91.3,585.0 L91.8,584.2 L92.2,583.4 L92.5,582.6 L92.7,581.7 L92.8,580.8 L92.7,579.9 L92.5,579.0 L92.2,578.2 L91.8,577.4 L91.8,577.3 L82.2,575.1 L81.7,575.4 L81.1,576.0 L80.6,576.5 L79.7,583.7 L80.0,584.2 L80.5,585.0Z" fill="url(#cg)" stroke="#efe6f4" stroke-width="1.0" stroke-linejoin="round"/>
<ellipse cx="84.65" cy="579.95" rx="2.80" ry="2.35" fill="#2c0c4c" opacity="0.28" transform="rotate(70 84.65 579.95)"/>
<rect x="28.00" y="519.60" width="72.50" height="65.70" fill="none" stroke="#111" stroke-width="1.3"/>
<rect x="26.70" y="600.60" width="74.90" height="64.10" fill="#ebe9e1" />
<g clip-path="url(#clip600)" filter="url(#haze)">
<circle cx="38.2" cy="617.5" r="9.13" fill="#d9cbe4"/>
<circle cx="52.4" cy="617.5" r="9.13" fill="#d9cbe4"/>
<circle cx="46.0" cy="628.0" r="9.79" fill="#d9cbe4"/>
<circle cx="39.25" cy="635.5" r="6.52" fill="#d9cbe4"/>
<circle cx="44.5" cy="643.75" r="5.44" fill="#d9cbe4"/>
<circle cx="52.75" cy="637.75" r="5.44" fill="#d9cbe4"/>
<circle cx="51.25" cy="647.5" r="4.78" fill="#d9cbe4"/>
<circle cx="58.75" cy="645.25" r="6.09" fill="#d9cbe4"/>
<circle cx="66.25" cy="650.8" r="7.61" fill="#d9cbe4"/>
<circle cx="50.5" cy="656.5" r="5.44" fill="#d9cbe4"/>
<circle cx="73.0" cy="607" r="6.96" fill="#d9cbe4"/>
<circle cx="85.75" cy="607" r="8.70" fill="#d9cbe4"/>
<circle cx="72.25" cy="616.75" r="6.52" fill="#d9cbe4"/>
<circle cx="80.5" cy="616.75" r="6.52" fill="#d9cbe4"/>
<circle cx="67.0" cy="628.75" r="9.79" fill="#d9cbe4"/>
<circle cx="84.25" cy="625.75" r="10.88" fill="#d9cbe4"/>
<circle cx="80.5" cy="636.25" r="8.70" fill="#d9cbe4"/>
<circle cx="91.75" cy="634.75" r="6.09" fill="#d9cbe4"/>
<circle cx="74.5" cy="644.5" r="6.09" fill="#d9cbe4"/>
<circle cx="83.5" cy="646.75" r="5.44" fill="#d9cbe4"/>
<circle cx="95.5" cy="649" r="7.61" fill="#d9cbe4"/>
<circle cx="91.0" cy="658" r="8.27" fill="#d9cbe4"/>
<circle cx="81.25" cy="662.5" r="6.52" fill="#d9cbe4"/>
<circle cx="70" cy="664" r="5.80" fill="#d9cbe4"/>
</g>
<path d="M31.1,620.5 L31.5,621.4 L32.1,622.2 L32.7,623.0 L33.5,623.6 L34.3,624.2 L35.2,624.6 L36.2,624.9 L37.2,625.1 L38.2,625.2 L38.4,625.2 L45.3,620.1 L45.3,614.5 L44.9,613.6 L44.3,612.8 L43.7,612.0 L42.9,611.4 L42.1,610.8 L41.2,610.4 L40.2,610.1 L39.2,609.9 L38.2,609.8 L37.2,609.9 L36.2,610.1 L35.2,610.4 L34.3,610.8 L33.5,611.4 L32.7,612.0 L32.1,612.8 L31.5,613.6 L31.1,614.5 L30.8,615.5 L30.6,616.5 L30.5,617.5 L30.6,618.5 L30.8,619.5 L31.1,620.5Z" fill="url(#cg)" stroke="#efe6f4" stroke-width="1.0" stroke-linejoin="round"/>
<ellipse cx="36.61" cy="617.31" rx="3.15" ry="2.65" fill="#2c0c4c" opacity="0.28" transform="rotate(99 36.61 617.31)"/>
<path d="M54.4,624.9 L55.4,624.6 L56.3,624.2 L57.1,623.6 L57.9,623.0 L58.5,622.2 L59.1,621.4 L59.5,620.5 L59.8,619.5 L60.0,618.5 L60.1,617.5 L60.0,616.5 L59.8,615.5 L59.5,614.5 L59.1,613.6 L58.5,612.8 L57.9,612.0 L57.1,611.4 L56.3,610.8 L55.4,610.4 L54.4,610.1 L53.4,609.9 L52.4,609.8 L51.4,609.9 L50.4,610.1 L49.4,610.4 L48.5,610.8 L47.7,611.4 L46.9,612.0 L46.3,612.8 L45.7,613.6 L45.3,614.5 L45.3,620.1 L53.6,625.1 L54.4,624.9Z" fill="url(#cg)" stroke="#efe6f4" stroke-width="1.0" stroke-linejoin="round"/>
<ellipse cx="53.61" cy="618.88" rx="3.15" ry="2.65" fill="#2c0c4c" opacity="0.28" transform="rotate(50 53.61 618.88)"/>
<circle cx="51.96" cy="618.71" r="1.01" fill="#e4d0f0" opacity="0.55"/>
<path d="M38.0,625.9 L37.8,626.9 L37.7,628.0 L37.8,629.1 L37.8,629.2 L45.7,636.2 L46.0,636.3 L47.0,636.2 L53.3,631.8 L53.6,631.2 L54.0,630.1 L54.2,629.1 L54.3,628.0 L54.2,626.9 L54.0,625.9 L53.8,625.2 L45.3,620.1 L38.2,625.4 L38.0,625.9Z" fill="url(#cg3)" stroke="#efe6f4" stroke-width="1.0" stroke-linejoin="round"/>
<path d="M37.8,640.8 L38.5,641.0 L39.2,641.0 L40.0,641.0 L40.6,640.8 L43.5,639.0 L43.6,638.9 L44.0,638.3 L44.3,637.6 L44.6,636.9 L44.7,636.2 L44.8,635.5 L44.8,635.4 L38.8,630.0 L38.5,630.0 L37.8,630.2 L37.1,630.4 L36.5,630.7 L35.9,631.1 L35.4,631.6 L34.9,632.1 L34.5,632.7 L34.2,633.4 L33.9,634.1 L33.8,634.8 L33.7,635.5 L33.8,636.2 L33.9,636.9 L34.2,637.6 L34.5,638.3 L34.9,638.9 L35.4,639.4 L35.9,639.9 L36.5,640.3 L37.1,640.6 L37.8,640.8Z" fill="url(#cg2)" stroke="#efe6f4" stroke-width="1.0" stroke-linejoin="round"/>
<path d="M39.9,643.8 L39.9,644.3 L40.1,644.9 L40.3,645.5 L40.5,646.0 L40.9,646.5 L41.3,647.0 L41.7,647.4 L42.2,647.7 L42.7,648.0 L43.3,648.2 L43.9,648.3 L44.5,648.3 L45.1,648.3 L45.7,648.2 L46.3,648.0 L46.8,647.7 L47.0,647.6 L49.1,643.9 L49.1,643.8 L49.1,643.2 L48.9,642.6 L48.7,642.0 L48.5,641.5 L48.1,641.0 L47.7,640.5 L47.3,640.1 L46.8,639.8 L46.3,639.5 L45.7,639.3 L45.1,639.2 L44.5,639.2 L43.9,639.2 L43.3,639.3 L42.7,639.5 L42.4,639.7 L41.6,640.2 L41.3,640.5 L40.9,641.0 L40.5,641.5 L40.3,642.0 L40.1,642.6 L39.9,643.2 L39.9,643.8Z" fill="url(#cg2)" stroke="#efe6f4" stroke-width="1.0" stroke-linejoin="round"/>
<path d="M48.2,637.8 L48.2,638.3 L48.3,638.9 L48.5,639.5 L48.8,640.0 L49.1,640.5 L49.5,641.0 L50.0,641.4 L50.5,641.7 L51.0,642.0 L51.6,642.2 L52.2,642.3 L52.8,642.3 L53.3,642.3 L53.9,642.2 L54.5,642.0 L55.0,641.7 L55.5,641.4 L56.0,641.0 L56.4,640.5 L56.7,640.0 L57.0,639.5 L57.2,638.9 L57.3,638.3 L57.3,637.8 L57.3,637.2 L57.2,636.6 L57.0,636.0 L56.7,635.5 L56.4,635.0 L56.0,634.5 L55.5,634.1 L55.0,633.8 L54.5,633.5 L53.9,633.3 L53.3,633.2 L52.8,633.2 L52.2,633.2 L51.6,633.3 L51.0,633.5 L50.6,633.7 L49.7,634.3 L49.5,634.5 L49.1,635.0 L48.8,635.5 L48.5,636.0 L48.3,636.6 L48.2,637.2 L48.2,637.8Z" fill="url(#cg)" stroke="#efe6f4" stroke-width="1.0" stroke-linejoin="round"/>
<ellipse cx="53.78" cy="636.96" rx="1.88" ry="1.57" fill="#2c0c4c" opacity="0.28" transform="rotate(32 53.78 636.96)"/>
<circle cx="52.25" cy="637.72" r="0.60" fill="#e4d0f0" opacity="0.55"/>
<path d="M48.0,650.0 L48.4,650.4 L48.8,650.7 L49.2,651.0 L49.7,651.2 L50.2,651.4 L50.7,651.5 L51.2,651.5 L51.8,651.5 L52.3,651.4 L52.8,651.2 L53.3,651.0 L53.7,650.7 L54.1,650.4 L54.5,650.0 L54.7,649.5 L55.0,649.0 L55.2,648.5 L55.2,648.5 L54.0,644.5 L53.7,644.3 L53.3,644.0 L52.8,643.8 L52.3,643.6 L51.8,643.5 L51.2,643.5 L50.7,643.5 L50.2,643.6 L49.7,643.8 L49.2,644.0 L48.9,644.2 L47.2,647.2 L47.2,647.5 L47.2,648.0 L47.3,648.5 L47.5,649.0 L47.8,649.5 L48.0,650.0Z" fill="url(#cg2)" stroke="#efe6f4" stroke-width="1.0" stroke-linejoin="round"/>
<path d="M56.2,649.7 L56.8,650.0 L57.4,650.2 L58.1,650.3 L58.8,650.4 L59.4,650.3 L60.1,650.2 L60.2,650.2 L63.9,645.2 L63.8,644.6 L63.7,643.9 L63.5,643.3 L63.2,642.7 L62.8,642.1 L62.4,641.6 L61.9,641.2 L61.3,640.8 L60.7,640.5 L60.1,640.3 L59.4,640.2 L58.8,640.1 L58.1,640.2 L57.4,640.3 L56.8,640.5 L56.5,640.6 L54.7,642.1 L54.7,642.1 L54.3,642.7 L54.0,643.3 L53.8,643.9 L55.3,649.1 L55.6,649.3 L56.2,649.7Z" fill="url(#cg2)" stroke="#efe6f4" stroke-width="1.0" stroke-linejoin="round"/>
<path d="M62.3,655.9 L63.0,656.4 L63.8,656.7 L64.6,657.0 L65.4,657.2 L66.2,657.2 L67.1,657.2 L67.9,657.0 L68.7,656.7 L69.5,656.4 L70.2,655.9 L70.8,655.3 L71.3,654.7 L71.8,654.0 L72.2,653.3 L72.5,652.5 L72.6,651.6 L72.7,650.8 L72.6,650.0 L72.6,649.7 L69.0,645.0 L68.7,644.9 L67.9,644.6 L67.1,644.4 L66.2,644.4 L65.4,644.4 L64.6,644.6 L64.3,644.7 L59.8,650.7 L59.8,650.8 L59.9,651.6 L60.0,652.5 L60.3,653.3 L60.7,654.0 L61.2,654.7 L61.7,655.3 L62.3,655.9Z" fill="url(#cg)" stroke="#efe6f4" stroke-width="1.0" stroke-linejoin="round"/>
<ellipse cx="66.53" cy="650.05" rx="2.62" ry="2.21" fill="#2c0c4c" opacity="0.28" transform="rotate(1 66.53 650.05)"/>
<circle cx="65.91" cy="650.97" r="0.84" fill="#e4d0f0" opacity="0.55"/>
<path d="M45.9,656.5 L45.9,657.1 L46.1,657.7 L46.3,658.3 L46.5,658.8 L46.9,659.3 L47.3,659.7 L47.7,660.1 L48.2,660.5 L48.7,660.7 L49.3,660.9 L49.9,661.1 L50.5,661.1 L51.1,661.1 L51.7,660.9 L52.3,660.7 L52.8,660.5 L53.3,660.1 L53.7,659.7 L54.1,659.3 L54.5,658.8 L54.7,658.3 L54.9,657.7 L55.1,657.1 L55.1,656.5 L55.1,655.9 L54.9,655.3 L54.7,654.7 L54.5,654.2 L54.1,653.7 L53.7,653.3 L53.3,652.9 L52.8,652.5 L52.3,652.3 L51.7,652.1 L51.1,651.9 L50.5,651.9 L49.9,651.9 L49.3,652.1 L48.7,652.3 L48.2,652.5 L47.7,652.9 L47.3,653.3 L46.9,653.7 L46.5,654.2 L46.3,654.7 L46.1,655.3 L45.9,655.9 L45.9,656.5Z" fill="url(#cg2)" stroke="#efe6f4" stroke-width="1.0" stroke-linejoin="round"/>
<path d="M67.1,607.0 L67.2,607.8 L67.3,608.5 L67.6,609.2 L67.9,609.9 L68.3,610.6 L68.8,611.2 L69.4,611.7 L69.6,611.8 L75.6,612.3 L75.9,612.1 L76.6,611.7 L77.2,611.2 L77.7,610.6 L78.1,609.9 L78.4,609.2 L78.7,608.5 L78.8,607.8 L78.8,607.4 L78.8,606.6 L78.8,606.2 L78.7,605.5 L78.4,604.8 L78.1,604.1 L77.7,603.4 L77.2,602.8 L76.6,602.3 L75.9,601.9 L75.2,601.6 L74.5,601.3 L73.8,601.2 L73.0,601.1 L72.2,601.2 L71.5,601.3 L70.8,601.6 L70.1,601.9 L69.4,602.3 L68.8,602.8 L68.3,603.4 L67.9,604.1 L67.6,604.8 L67.3,605.5 L67.2,606.2 L67.1,607.0Z" fill="url(#cg)" stroke="#efe6f4" stroke-width="1.0" stroke-linejoin="round"/>
<ellipse cx="74.30" cy="607.55" rx="2.40" ry="2.02" fill="#2c0c4c" opacity="0.28" transform="rotate(93 74.30 607.55)"/>
<path d="M79.0,609.8 L79.4,610.7 L79.4,610.7 L86.1,614.3 L86.7,614.3 L87.7,614.1 L88.6,613.8 L89.4,613.4 L90.2,612.8 L90.9,612.2 L91.6,611.5 L92.1,610.7 L92.5,609.8 L92.8,608.9 L93.0,608.0 L93.1,607.0 L93.0,606.0 L92.8,605.1 L92.5,604.2 L92.1,603.3 L91.6,602.5 L90.9,601.8 L90.2,601.2 L89.4,600.6 L89.3,600.6 L82.2,600.6 L82.1,600.6 L81.3,601.2 L80.6,601.8 L79.9,602.5 L79.4,603.3 L79.0,604.2 L78.8,604.5 L78.8,609.5 L79.0,609.8Z" fill="url(#cg3)" stroke="#efe6f4" stroke-width="1.0" stroke-linejoin="round"/>
<path d="M67.9,620.1 L68.4,620.6 L68.9,621.1 L69.5,621.5 L70.1,621.8 L70.8,622.1 L71.5,622.2 L72.2,622.3 L73.0,622.2 L73.7,622.1 L74.4,621.8 L75.0,621.5 L75.6,621.1 L76.1,620.6 L76.4,620.4 L76.4,613.1 L76.1,612.9 L75.6,612.4 L75.4,612.2 L69.8,611.8 L69.5,612.0 L68.9,612.4 L68.4,612.9 L67.9,613.4 L67.5,614.0 L67.2,614.6 L66.9,615.3 L66.8,616.0 L66.7,616.8 L66.8,617.5 L66.9,618.2 L67.2,618.9 L67.5,619.5 L67.9,620.1Z" fill="url(#cg)" stroke="#efe6f4" stroke-width="1.0" stroke-linejoin="round"/>
<ellipse cx="72.73" cy="615.55" rx="2.25" ry="1.89" fill="#2c0c4c" opacity="0.28" transform="rotate(162 72.73 615.55)"/>
<path d="M86.0,617.5 L86.0,616.8 L86.0,616.0 L85.8,615.3 L85.6,614.6 L85.3,614.0 L85.1,613.8 L80.4,611.2 L79.8,611.3 L79.1,611.4 L78.4,611.7 L77.7,612.0 L77.1,612.4 L76.6,612.9 L76.4,613.1 L76.4,620.4 L76.6,620.6 L77.1,621.1 L77.4,621.3 L85.9,617.7 L86.0,617.5Z" fill="url(#cg3)" stroke="#efe6f4" stroke-width="1.0" stroke-linejoin="round"/>
<path d="M58.7,628.8 L58.8,629.8 L59.0,630.9 L59.4,631.9 L59.8,632.9 L60.4,633.8 L61.2,634.6 L62.0,635.3 L62.9,635.9 L63.8,636.4 L64.9,636.7 L65.9,636.9 L67.0,637.0 L68.1,636.9 L69.1,636.7 L70.2,636.4 L71.1,635.9 L72.0,635.3 L72.8,634.6 L73.2,634.2 L74.9,631.0 L75.0,630.9 L75.2,629.8 L75.3,628.8 L75.2,627.7 L75.0,626.6 L74.6,625.6 L74.2,624.6 L73.6,623.7 L73.1,623.2 L67.0,620.5 L65.9,620.6 L64.9,620.8 L63.8,621.1 L62.9,621.6 L62.0,622.2 L61.2,622.9 L60.4,623.7 L59.8,624.6 L59.4,625.6 L59.0,626.6 L58.8,627.7 L58.7,628.8Z" fill="url(#cg3)" stroke="#efe6f4" stroke-width="1.0" stroke-linejoin="round"/>
<path d="M93.1,628.1 L93.4,626.9 L93.4,625.8 L93.4,624.6 L93.1,623.4 L92.7,622.2 L92.2,621.2 L91.5,620.2 L90.7,619.3 L89.8,618.5 L88.8,617.8 L87.8,617.3 L87.3,617.1 L76.4,621.7 L75.6,622.7 L75.4,623.4 L75.1,624.6 L75.1,625.8 L75.1,626.0 L75.5,628.6 L75.8,629.3 L76.0,629.7 L86.7,633.6 L93.1,628.3 L93.1,628.1Z" fill="url(#cg3)" stroke="#efe6f4" stroke-width="1.0" stroke-linejoin="round"/>
<path d="M73.2,637.2 L73.4,638.2 L73.6,638.7 L79.8,643.2 L85.5,641.6 L85.7,641.4 L86.3,640.7 L86.9,639.9 L87.3,639.1 L87.4,638.7 L86.7,633.6 L76.7,630.0 L76.0,630.4 L75.3,631.1 L74.7,631.8 L74.1,632.6 L73.7,633.4 L73.4,634.3 L73.2,635.3 L73.2,636.2 L73.2,637.2Z" fill="url(#cg3)" stroke="#efe6f4" stroke-width="1.0" stroke-linejoin="round"/>
<path d="M91.1,639.8 L91.8,639.9 L92.4,639.8 L93.1,639.7 L93.7,639.5 L94.3,639.2 L94.9,638.8 L95.4,638.4 L95.8,637.9 L96.2,637.3 L96.5,636.7 L96.7,636.1 L96.8,635.4 L96.9,634.8 L96.8,634.1 L96.7,633.4 L96.5,632.8 L96.2,632.2 L95.8,631.6 L95.4,631.1 L94.9,630.7 L94.3,630.3 L93.7,630.0 L93.1,629.8 L92.4,629.7 L91.8,629.6 L91.4,629.6 L86.8,633.5 L86.7,633.7 L87.2,637.1 L87.3,637.3 L87.7,637.9 L88.1,638.4 L88.6,638.8 L89.2,639.2 L89.8,639.5 L90.4,639.7 L91.1,639.8Z" fill="url(#cg2)" stroke="#efe6f4" stroke-width="1.0" stroke-linejoin="round"/>
<path d="M69.4,644.5 L69.4,645.2 L69.5,645.7 L72.0,649.0 L72.5,649.2 L73.2,649.5 L73.8,649.6 L74.5,649.6 L75.2,649.6 L75.8,649.5 L76.5,649.2 L77.1,649.0 L77.6,648.6 L78.1,648.1 L78.6,647.6 L78.8,647.3 L79.6,644.0 L79.6,643.8 L79.5,643.2 L79.4,642.9 L74.5,639.4 L74.5,639.4 L73.8,639.4 L73.2,639.5 L72.5,639.8 L71.9,640.0 L71.4,640.4 L70.9,640.9 L70.4,641.4 L70.0,641.9 L69.8,642.5 L69.5,643.2 L69.4,643.8 L69.4,644.5Z" fill="url(#cg2)" stroke="#efe6f4" stroke-width="1.0" stroke-linejoin="round"/>
<path d="M79.1,647.9 L79.3,648.5 L79.5,649.0 L79.9,649.5 L80.3,650.0 L80.7,650.4 L81.2,650.7 L81.7,651.0 L82.3,651.2 L82.9,651.3 L83.5,651.3 L84.1,651.3 L84.7,651.2 L85.3,651.0 L85.8,650.7 L86.3,650.4 L86.7,650.0 L87.1,649.5 L87.5,649.0 L87.7,648.5 L87.9,647.9 L88.1,647.3 L88.1,646.8 L88.1,646.2 L87.9,645.6 L87.7,645.0 L87.5,644.5 L87.1,644.0 L86.7,643.5 L86.3,643.1 L85.8,642.8 L85.3,642.5 L84.7,642.3 L84.1,642.2 L83.5,642.2 L83.5,642.2 L81.1,642.8 L80.7,643.1 L80.3,643.5 L79.9,644.0 L79.5,644.5 L79.5,644.6 L78.9,646.8 L78.9,647.3 L79.1,647.9Z" fill="url(#cg2)" stroke="#efe6f4" stroke-width="1.0" stroke-linejoin="round"/>
<path d="M89.1,649.0 L89.1,649.8 L89.3,650.7 L89.5,651.4 L97.2,655.2 L98.0,654.9 L98.7,654.6 L99.4,654.1 L100.0,653.5 L100.6,652.9 L101.1,652.2 L101.4,651.5 L101.6,651.0 L101.6,647.0 L101.4,646.5 L101.1,645.8 L100.6,645.1 L100.0,644.5 L99.4,643.9 L98.7,643.4 L98.0,643.1 L97.2,642.8 L96.3,642.6 L95.5,642.6 L94.7,642.6 L93.8,642.8 L93.0,643.1 L92.3,643.4 L91.6,643.9 L91.0,644.5 L90.4,645.1 L89.9,645.8 L89.6,646.5 L89.3,647.3 L89.1,648.2 L89.1,649.0Z" fill="url(#cg)" stroke="#efe6f4" stroke-width="1.0" stroke-linejoin="round"/>
<ellipse cx="96.68" cy="649.94" rx="2.62" ry="2.21" fill="#2c0c4c" opacity="0.28" transform="rotate(71 96.68 649.94)"/>
<circle cx="94.46" cy="649.35" r="0.84" fill="#e4d0f0" opacity="0.55"/>
<path d="M84.1,657.2 L87.1,663.8 L87.5,664.0 L88.3,664.4 L89.1,664.7 L92.9,664.7 L93.7,664.4 L94.5,664.0 L95.2,663.5 L95.9,662.9 L96.5,662.2 L97.0,661.5 L97.4,660.7 L97.7,659.8 L97.9,658.9 L98.0,658.0 L97.9,657.1 L97.7,656.2 L97.4,655.3 L97.4,655.3 L89.3,651.2 L89.2,651.3 L88.3,651.6 L87.5,652.0 L86.8,652.5 L86.1,653.1 L85.5,653.8 L85.0,654.5 L84.6,655.3 L84.3,656.2 L84.1,657.1 L84.1,657.2Z" fill="url(#cg)" stroke="#efe6f4" stroke-width="1.0" stroke-linejoin="round"/>
<ellipse cx="89.50" cy="656.52" rx="2.85" ry="2.39" fill="#2c0c4c" opacity="0.28" transform="rotate(38 89.50 656.52)"/>
<circle cx="90.54" cy="656.72" r="0.91" fill="#e4d0f0" opacity="0.55"/>
<path d="M75.7,662.5 L75.8,663.2 L75.9,663.9 L76.2,664.6 L76.2,664.7 L86.3,664.7 L86.3,664.6 L86.6,663.9 L86.7,663.2 L86.7,663.0 L84.4,658.0 L84.0,657.7 L83.4,657.4 L82.7,657.2 L82.0,657.0 L81.2,657.0 L80.5,657.0 L79.8,657.2 L79.1,657.4 L78.5,657.7 L77.9,658.1 L77.4,658.6 L76.9,659.1 L76.5,659.7 L76.2,660.4 L75.9,661.1 L75.8,661.8 L75.7,662.5Z" fill="url(#cg2)" stroke="#efe6f4" stroke-width="1.0" stroke-linejoin="round"/>
<path d="M65.1,664.0 L65.1,664.6 L65.2,664.7 L74.8,664.7 L74.9,664.6 L74.9,664.0 L74.9,663.4 L74.7,662.7 L74.5,662.1 L74.2,661.6 L73.9,661.0 L73.5,660.5 L73.0,660.1 L72.4,659.8 L71.9,659.5 L71.3,659.3 L70.6,659.1 L70.0,659.1 L69.4,659.1 L68.7,659.3 L68.1,659.5 L67.6,659.8 L67.0,660.1 L66.5,660.5 L66.1,661.0 L65.8,661.6 L65.5,662.1 L65.3,662.7 L65.1,663.4 L65.1,664.0Z" fill="url(#cg)" stroke="#efe6f4" stroke-width="1.0" stroke-linejoin="round"/>
<ellipse cx="68.80" cy="663.16" rx="2.00" ry="1.68" fill="#2c0c4c" opacity="0.28" transform="rotate(18 68.80 663.16)"/>
<circle cx="69.05" cy="664.75" r="0.64" fill="#e4d0f0" opacity="0.55"/>
<rect x="26.70" y="600.60" width="74.90" height="64.10" fill="none" stroke="#111" stroke-width="1.3"/>
<path d="M180.20,625.70 C180.33,623.08 180.70,617.12 181.00,610.00 C181.30,602.88 181.67,591.33 182.00,583.00 C182.33,574.67 182.72,565.83 183.00,560.00 C183.28,554.17 183.48,551.83 183.70,548.00 C183.92,544.17 184.10,540.13 184.30,537.00 C184.50,533.87 184.70,530.28 184.90,529.20 C185.10,528.12 185.28,527.87 185.50,530.50 C185.72,533.13 185.95,539.25 186.20,545.00 C186.45,550.75 186.70,557.50 187.00,565.00 C187.30,572.50 187.67,582.50 188.00,590.00 C188.33,597.50 188.67,604.05 189.00,610.00 C189.33,615.95 189.83,623.08 190.00,625.70Z" fill="#bfe2a6" stroke="#68ae48" stroke-width="0.9"/>
<path d="M184.00,625.70 C184.25,622.75 185.03,613.95 185.50,608.00 C185.97,602.05 186.40,596.33 186.80,590.00 C187.20,583.67 187.45,576.33 187.90,570.00 C188.35,563.67 188.90,556.83 189.50,552.00 C190.10,547.17 190.97,543.30 191.50,541.00 C192.03,538.70 192.17,539.35 192.70,538.20 C193.23,537.05 194.22,534.88 194.70,534.10 C195.18,533.32 195.12,533.22 195.60,533.50 C196.08,533.78 196.93,535.88 197.60,535.80 C198.27,535.72 199.10,532.63 199.60,533.00 C200.10,533.37 200.27,535.17 200.60,538.00 C200.93,540.83 201.03,545.50 201.60,550.00 C202.17,554.50 203.12,560.05 204.00,565.00 C204.88,569.95 205.82,575.20 206.90,579.70 C207.98,584.20 209.32,588.03 210.50,592.00 C211.68,595.97 212.92,600.33 214.00,603.50 C215.08,606.67 216.00,608.62 217.00,611.00 C218.00,613.38 218.80,615.58 220.00,617.80 C221.20,620.02 222.87,622.98 224.20,624.30 C225.53,625.62 227.37,625.47 228.00,625.70Z" fill="#fff"/>
<path d="M183.00,625.70 C183.17,623.58 183.67,617.62 184.00,613.00 C184.33,608.38 184.72,603.00 185.00,598.00 C185.28,593.00 185.45,588.50 185.70,583.00 C185.95,577.50 186.23,570.50 186.50,565.00 C186.77,559.50 186.98,554.17 187.30,550.00 C187.62,545.83 188.03,543.00 188.40,540.00 C188.77,537.00 189.10,534.13 189.50,532.00 C189.90,529.87 190.42,527.78 190.80,527.20 C191.18,526.62 191.48,526.77 191.80,528.50 C192.12,530.23 192.37,534.02 192.70,537.60 C193.03,541.18 193.17,545.43 193.80,550.00 C194.43,554.57 195.50,560.05 196.50,565.00 C197.50,569.95 198.63,575.03 199.80,579.70 C200.97,584.37 202.22,588.63 203.50,593.00 C204.78,597.37 205.93,601.57 207.50,605.90 C209.07,610.23 211.02,615.83 212.90,619.00 C214.78,622.17 217.28,623.78 218.80,624.90 C220.32,626.02 221.47,625.57 222.00,625.70Z" fill="#fff"/>
<path d="M184.00,625.70 C184.25,622.75 185.03,613.95 185.50,608.00 C185.97,602.05 186.40,596.33 186.80,590.00 C187.20,583.67 187.45,576.33 187.90,570.00 C188.35,563.67 188.90,556.83 189.50,552.00 C190.10,547.17 190.97,543.30 191.50,541.00 C192.03,538.70 192.17,539.35 192.70,538.20 C193.23,537.05 194.22,534.88 194.70,534.10 C195.18,533.32 195.12,533.22 195.60,533.50 C196.08,533.78 196.93,535.88 197.60,535.80 C198.27,535.72 199.10,532.63 199.60,533.00 C200.10,533.37 200.27,535.17 200.60,538.00 C200.93,540.83 201.03,545.50 201.60,550.00 C202.17,554.50 203.12,560.05 204.00,565.00 C204.88,569.95 205.82,575.20 206.90,579.70 C207.98,584.20 209.32,588.03 210.50,592.00 C211.68,595.97 212.92,600.33 214.00,603.50 C215.08,606.67 216.00,608.62 217.00,611.00 C218.00,613.38 218.80,615.58 220.00,617.80 C221.20,620.02 222.87,622.98 224.20,624.30 C225.53,625.62 227.37,625.47 228.00,625.70Z" fill="#9aa5d2" stroke="#27356a" stroke-width="0.9" style="mix-blend-mode:multiply"/>
<path d="M183.00,625.70 C183.17,623.58 183.67,617.62 184.00,613.00 C184.33,608.38 184.72,603.00 185.00,598.00 C185.28,593.00 185.45,588.50 185.70,583.00 C185.95,577.50 186.23,570.50 186.50,565.00 C186.77,559.50 186.98,554.17 187.30,550.00 C187.62,545.83 188.03,543.00 188.40,540.00 C188.77,537.00 189.10,534.13 189.50,532.00 C189.90,529.87 190.42,527.78 190.80,527.20 C191.18,526.62 191.48,526.77 191.80,528.50 C192.12,530.23 192.37,534.02 192.70,537.60 C193.03,541.18 193.17,545.43 193.80,550.00 C194.43,554.57 195.50,560.05 196.50,565.00 C197.50,569.95 198.63,575.03 199.80,579.70 C200.97,584.37 202.22,588.63 203.50,593.00 C204.78,597.37 205.93,601.57 207.50,605.90 C209.07,610.23 211.02,615.83 212.90,619.00 C214.78,622.17 217.28,623.78 218.80,624.90 C220.32,626.02 221.47,625.57 222.00,625.70Z" fill="#d8a2ab" stroke="#9a1c40" stroke-width="1.0" style="mix-blend-mode:multiply"/>
<rect x="146.2" y="520.9" width="106.9" height="104.8" fill="none" stroke="#111" stroke-width="1.6"/>
<line x1="143.10" y1="625.70" x2="146.20" y2="625.70" stroke="#111" stroke-width="1.1"/>
<text x="139.50" y="627.90" font-size="5.4" text-anchor="end" fill="#2a2a2a" stroke="#2a2a2a" stroke-width="0.18" >0</text>
<line x1="143.10" y1="605.65" x2="146.20" y2="605.65" stroke="#111" stroke-width="1.1"/>
<text x="139.50" y="607.85" font-size="5.4" text-anchor="end" fill="#2a2a2a" stroke="#2a2a2a" stroke-width="0.18" >20</text>
<line x1="143.10" y1="585.60" x2="146.20" y2="585.60" stroke="#111" stroke-width="1.1"/>
<text x="139.50" y="587.80" font-size="5.4" text-anchor="end" fill="#2a2a2a" stroke="#2a2a2a" stroke-width="0.18" >40</text>
<line x1="143.10" y1="565.55" x2="146.20" y2="565.55" stroke="#111" stroke-width="1.1"/>
<text x="139.50" y="567.75" font-size="5.4" text-anchor="end" fill="#2a2a2a" stroke="#2a2a2a" stroke-width="0.18" >60</text>
<line x1="143.10" y1="545.50" x2="146.20" y2="545.50" stroke="#111" stroke-width="1.1"/>
<text x="139.50" y="547.70" font-size="5.4" text-anchor="end" fill="#2a2a2a" stroke="#2a2a2a" stroke-width="0.18" >80</text>
<line x1="143.10" y1="525.45" x2="146.20" y2="525.45" stroke="#111" stroke-width="1.1"/>
<text x="139.50" y="527.65" font-size="5.4" text-anchor="end" fill="#2a2a2a" stroke="#2a2a2a" stroke-width="0.18" >100</text>
<line x1="145.20" y1="620.69" x2="146.20" y2="620.69" stroke="#111" stroke-width="0.8"/>
<line x1="145.20" y1="615.68" x2="146.20" y2="615.68" stroke="#111" stroke-width="0.8"/>
<line x1="145.20" y1="610.66" x2="146.20" y2="610.66" stroke="#111" stroke-width="0.8"/>
<line x1="145.20" y1="600.64" x2="146.20" y2="600.64" stroke="#111" stroke-width="0.8"/>
<line x1="145.20" y1="595.62" x2="146.20" y2="595.62" stroke="#111" stroke-width="0.8"/>
<line x1="145.20" y1="590.61" x2="146.20" y2="590.61" stroke="#111" stroke-width="0.8"/>
<line x1="145.20" y1="580.59" x2="146.20" y2="580.59" stroke="#111" stroke-width="0.8"/>
<line x1="145.20" y1="575.58" x2="146.20" y2="575.58" stroke="#111" stroke-width="0.8"/>
<line x1="145.20" y1="570.56" x2="146.20" y2="570.56" stroke="#111" stroke-width="0.8"/>
<line x1="145.20" y1="560.54" x2="146.20" y2="560.54" stroke="#111" stroke-width="0.8"/>
<line x1="145.20" y1="555.53" x2="146.20" y2="555.53" stroke="#111" stroke-width="0.8"/>
<line x1="145.20" y1="550.51" x2="146.20" y2="550.51" stroke="#111" stroke-width="0.8"/>
<line x1="145.20" y1="540.49" x2="146.20" y2="540.49" stroke="#111" stroke-width="0.8"/>
<line x1="145.20" y1="535.48" x2="146.20" y2="535.48" stroke="#111" stroke-width="0.8"/>
<line x1="145.20" y1="530.46" x2="146.20" y2="530.46" stroke="#111" stroke-width="0.8"/>
<line x1="152.90" y1="625.70" x2="152.90" y2="629.40" stroke="#111" stroke-width="0.9"/>
<line x1="181.50" y1="625.70" x2="181.50" y2="629.40" stroke="#111" stroke-width="0.9"/>
<line x1="210.80" y1="625.70" x2="210.80" y2="629.40" stroke="#111" stroke-width="0.9"/>
<line x1="252.30" y1="625.70" x2="252.30" y2="629.40" stroke="#111" stroke-width="0.9"/>
<line x1="165.10" y1="625.70" x2="165.10" y2="628.00" stroke="#111" stroke-width="0.7"/>
<line x1="170.40" y1="625.70" x2="170.40" y2="628.00" stroke="#111" stroke-width="0.7"/>
<line x1="174.10" y1="625.70" x2="174.10" y2="628.00" stroke="#111" stroke-width="0.7"/>
<line x1="176.70" y1="625.70" x2="176.70" y2="628.00" stroke="#111" stroke-width="0.7"/>
<line x1="178.90" y1="625.70" x2="178.90" y2="628.00" stroke="#111" stroke-width="0.7"/>
<line x1="184.10" y1="625.70" x2="184.10" y2="628.00" stroke="#111" stroke-width="0.7"/>
<line x1="186.30" y1="625.70" x2="186.30" y2="628.00" stroke="#111" stroke-width="0.7"/>
<line x1="189.00" y1="625.70" x2="189.00" y2="628.00" stroke="#111" stroke-width="0.7"/>
<line x1="192.70" y1="625.70" x2="192.70" y2="628.00" stroke="#111" stroke-width="0.7"/>
<line x1="198.00" y1="625.70" x2="198.00" y2="628.00" stroke="#111" stroke-width="0.7"/>
<line x1="223.30" y1="625.70" x2="223.30" y2="628.00" stroke="#111" stroke-width="0.7"/>
<line x1="230.60" y1="625.70" x2="230.60" y2="628.00" stroke="#111" stroke-width="0.7"/>
<line x1="235.80" y1="625.70" x2="235.80" y2="628.00" stroke="#111" stroke-width="0.7"/>
<line x1="239.80" y1="625.70" x2="239.80" y2="628.00" stroke="#111" stroke-width="0.7"/>
<line x1="243.10" y1="625.70" x2="243.10" y2="628.00" stroke="#111" stroke-width="0.7"/>
<line x1="245.90" y1="625.70" x2="245.90" y2="628.00" stroke="#111" stroke-width="0.7"/>
<line x1="248.30" y1="625.70" x2="248.30" y2="628.00" stroke="#111" stroke-width="0.7"/>
<line x1="250.40" y1="625.70" x2="250.40" y2="628.00" stroke="#111" stroke-width="0.7"/>
<text x="154.00" y="637.30" font-size="5.0" text-anchor="middle" fill="#2a2a2a" stroke="#2a2a2a" stroke-width="0.18" >-10<tspan font-size="3.4" dy="-2.2">3</tspan></text>
<text x="181.80" y="637.30" font-size="5.0" text-anchor="middle" fill="#2a2a2a" stroke="#2a2a2a" stroke-width="0.18" >0</text>
<text x="211.60" y="637.30" font-size="5.0" text-anchor="middle" fill="#2a2a2a" stroke="#2a2a2a" stroke-width="0.18" >10<tspan font-size="3.4" dy="-2.2">3</tspan></text>
<text x="252.80" y="637.30" font-size="5.0" text-anchor="middle" fill="#2a2a2a" stroke="#2a2a2a" stroke-width="0.18" >10<tspan font-size="3.4" dy="-2.2">4</tspan></text>
<line x1="152.30" y1="644.40" x2="242.50" y2="644.40" stroke="#111" stroke-width="1.1"/>
<polygon points="247.4,644.4 241.2,642.3 241.2,646.5" fill="#111"/>
<text x="169.80" y="655.50" font-size="8.6" text-anchor="start" fill="#2a2a2a" textLength="56" lengthAdjust="spacingAndGlyphs" stroke="#2a2a2a" stroke-width="0.15">Gr-1 expression</text>
<rect x="256.20" y="521.00" width="11.10" height="5.30" fill="#70ad48" />
<rect x="256.20" y="532.70" width="11.10" height="5.20" fill="#ad0026" />
<rect x="256.20" y="544.60" width="11.10" height="5.40" fill="#2f4880" />
<text x="270.80" y="525.60" font-size="7.9" text-anchor="start" fill="#2a2a2a" textLength="57" lengthAdjust="spacingAndGlyphs" stroke="#222" stroke-width="0.32">Negative control</text>
<text x="270.80" y="538.00" font-size="8" font-style="italic" fill="#2a2a2a" stroke="#2a2a2a" stroke-width="0.2">Psip<tspan font-size="5.6" dy="-3.20">Fl/Fl</tspan></text>
<text x="270.80" y="549.60" font-size="8" font-style="italic" fill="#2a2a2a" stroke="#2a2a2a" stroke-width="0.2">Psip<tspan font-size="5.6" dy="-3.20">Vav/Vav</tspan></text>
<line x1="370.80" y1="500.20" x2="370.80" y2="626.50" stroke="#111" stroke-width="1.4"/>
<line x1="367.50" y1="625.90" x2="370.80" y2="625.90" stroke="#111" stroke-width="1.1"/>
<text x="364.00" y="628.20" font-size="6.2" text-anchor="end" fill="#2a2a2a" stroke="#2a2a2a" stroke-width="0.18" >0</text>
<line x1="367.50" y1="595.25" x2="370.80" y2="595.25" stroke="#111" stroke-width="1.1"/>
<text x="364.00" y="597.55" font-size="6.2" text-anchor="end" fill="#2a2a2a" stroke="#2a2a2a" stroke-width="0.18" >20</text>
<line x1="367.50" y1="564.60" x2="370.80" y2="564.60" stroke="#111" stroke-width="1.1"/>
<text x="364.00" y="566.90" font-size="6.2" text-anchor="end" fill="#2a2a2a" stroke="#2a2a2a" stroke-width="0.18" >40</text>
<line x1="367.50" y1="533.95" x2="370.80" y2="533.95" stroke="#111" stroke-width="1.1"/>
<text x="364.00" y="536.25" font-size="6.2" text-anchor="end" fill="#2a2a2a" stroke="#2a2a2a" stroke-width="0.18" >60</text>
<line x1="367.50" y1="503.30" x2="370.80" y2="503.30" stroke="#111" stroke-width="1.1"/>
<text x="364.00" y="505.60" font-size="6.2" text-anchor="end" fill="#2a2a2a" stroke="#2a2a2a" stroke-width="0.18" >80</text>
<line x1="369.90" y1="625.90" x2="446.50" y2="625.90" stroke="#111" stroke-width="1.2"/>
<text transform="translate(351.20,562.40) rotate(-90)" x="0" y="0" font-size="8.9" text-anchor="middle" fill="#2a2a2a" stroke="#2a2a2a" stroke-width="0.22" textLength="84.8" lengthAdjust="spacingAndGlyphs">Gr-1 posistive cells (%)</text>
<line x1="389.50" y1="542.99" x2="389.50" y2="555.14" stroke="#222" stroke-width="1.1"/>
<line x1="386.20" y1="542.99" x2="392.80" y2="542.99" stroke="#222" stroke-width="1.4"/>
<rect x="381.40" y="554.64" width="16.50" height="71.26" fill="#ad0026" />
<line x1="424.50" y1="521.23" x2="424.50" y2="531.38" stroke="#222" stroke-width="1.1"/>
<line x1="421.20" y1="521.23" x2="427.80" y2="521.23" stroke="#222" stroke-width="1.4"/>
<rect x="416.40" y="530.88" width="16.40" height="95.01" fill="#2f4880" />
<circle cx="422.77" cy="516.60" r="1.15" fill="#1a1a1a"/>
<circle cx="426.43" cy="516.60" r="1.15" fill="#1a1a1a"/>
<rect x="449.20" y="531.90" width="11.70" height="5.30" fill="#ad0026" />
<rect x="449.20" y="543.50" width="11.70" height="5.30" fill="#2f4880" />
<text x="464.00" y="536.90" font-size="6.6" font-style="italic" fill="#2a2a2a" stroke="#2a2a2a" stroke-width="0.2">Psip<tspan font-size="3.7" dy="-3.30">Fl/Fl</tspan></text>
<text x="464.00" y="547.80" font-size="6.6" font-style="italic" fill="#2a2a2a" stroke="#2a2a2a" stroke-width="0.2">Psip<tspan font-size="3.7" dy="-3.30">Vav/Vav</tspan></text>
<rect x="0" y="0" width="520" height="673" fill="none" stroke="#000" stroke-width="3"/>
</svg></div></body></html>
